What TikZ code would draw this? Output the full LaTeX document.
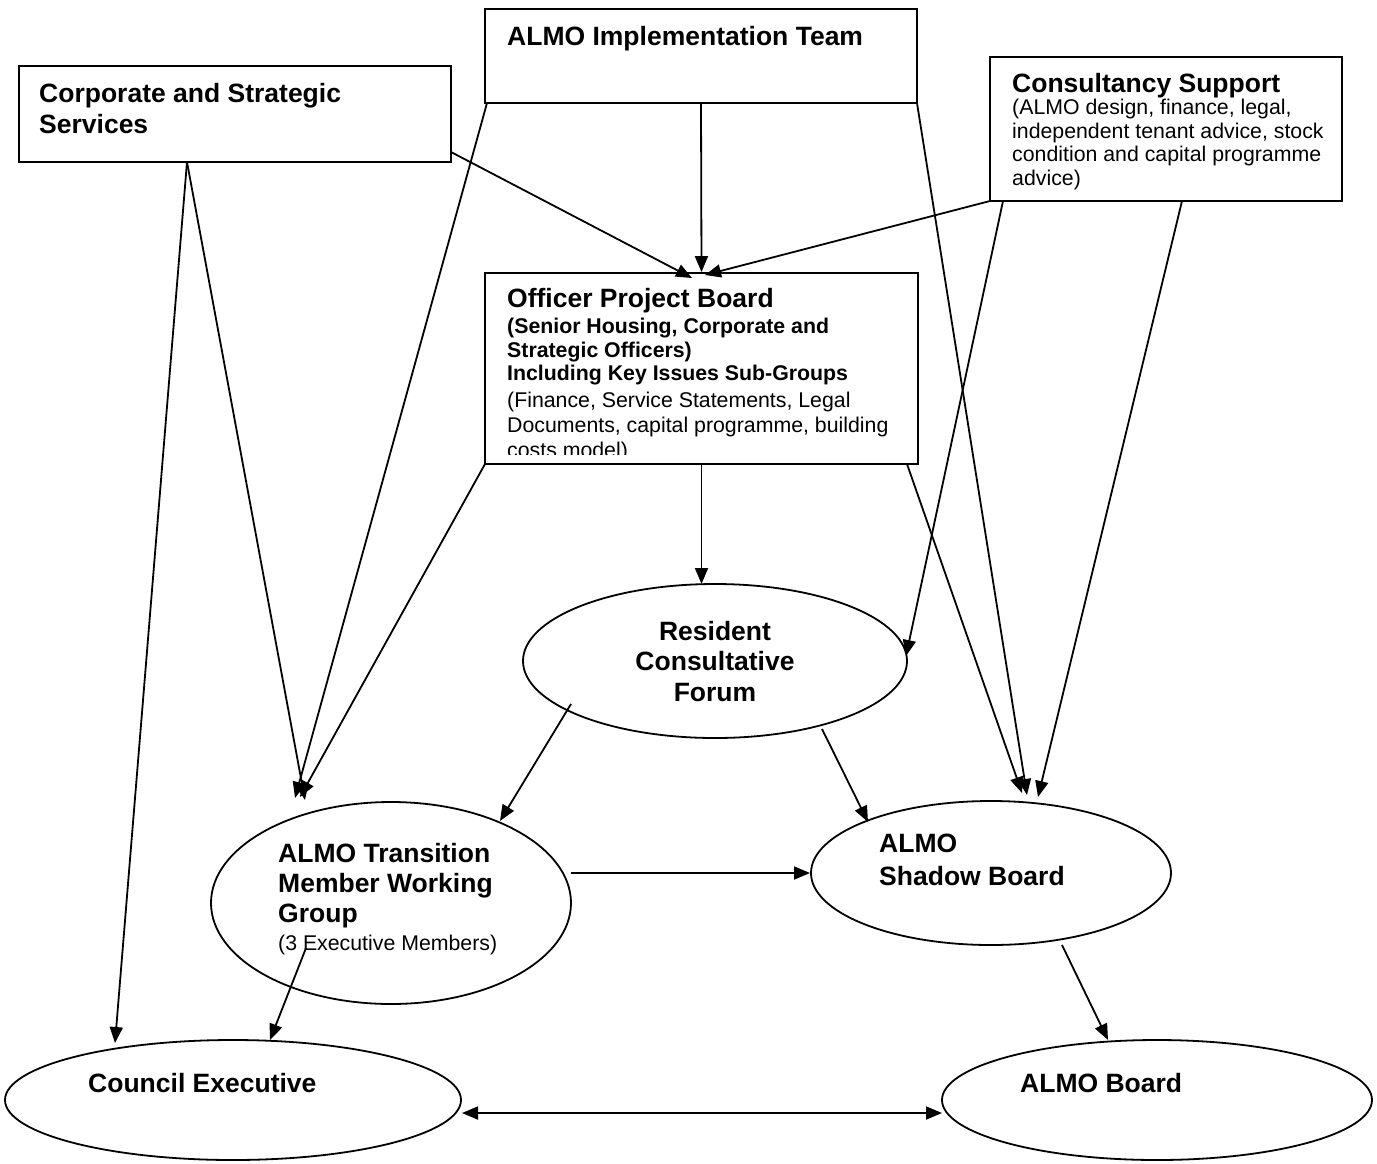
\documentclass[tikz,border=0pt]{standalone}
\usepackage{fontspec}
\setmainfont{Liberation Sans}
\usetikzlibrary{arrows.meta,shapes.geometric}
\tikzset{
  box/.style={draw, line width=1.8pt, rectangle, inner sep=0pt},
  oval/.style={draw, line width=1.8pt, ellipse, inner sep=0pt},
  arr/.style={line width=1.8pt, -{Triangle[length=16pt,width=13pt]}},
  dblarr/.style={line width=1.8pt, {Triangle[length=16pt,width=13pt]}-{Triangle[length=16pt,width=13pt]}},
  hd/.style={anchor=base west, inner sep=0pt, font=\bfseries\fontsize{26.5}{30}\selectfont},
  hdc/.style={anchor=base, inner sep=0pt, font=\bfseries\fontsize{26.5}{30}\selectfont},
  sbb/.style={anchor=base west, inner sep=0pt, font=\bfseries\fontsize{21.3}{24}\selectfont},
  sbr/.style={anchor=base west, inner sep=0pt, font=\fontsize{21.3}{24}\selectfont},
}
\begin{document}
\begin{tikzpicture}[x=1pt,y=-1pt]
\useasboundingbox[fill=white] (0,0) rectangle (1377,1163);

% boxes
\node[box, minimum width=432pt, minimum height=94pt] (impl) at (701,56) {};
\node[box, minimum width=432pt, minimum height=96pt] (corp) at (235,114) {};
\node[box, minimum width=352pt, minimum height=144pt] (cons) at (1166,129) {};
\node[box, minimum width=433pt, minimum height=191pt] (opb) at (701.5,368.5) {};

% ellipses
\node[oval, minimum width=384pt, minimum height=154pt] (rcf) at (715,661) {};
\node[oval, minimum width=360pt, minimum height=202pt] (trans) at (391,903) {};
\node[oval, minimum width=360pt, minimum height=144pt] (shadow) at (991,873) {};
\node[oval, minimum width=456pt, minimum height=120pt] (council) at (233,1100) {};
\node[oval, minimum width=430pt, minimum height=120pt] (almob) at (1157,1100) {};

% texts
\node[hd] (implT) at (507,45) {ALMO Implementation Team};
\node[hd] (corpT1) at (39,102) {Corporate and Strategic};
\node[hd] (corpT2) at (39,133) {Services};

\begin{scope}
\clip (990,57) rectangle (1342,190);
\node[hd] (consT) at (1012,92) {Consultancy Support};
\node[sbr] (consS1) at (1012,114) {(ALMO design, finance, legal,};
\node[sbr] (consS2) at (1012,138) {independent tenant advice, stock};
\node[sbr] (consS3) at (1012,161) {condition and capital programme};
\node[sbr] (consS4) at (1012,185) {advice)};
\end{scope}

\begin{scope}
\clip (485,273) rectangle (918,454);
\node[hd] (opbT) at (507,307) {Officer Project Board};
\node[sbb] (opbB1) at (507,333) {(Senior Housing, Corporate and};
\node[sbb] (opbB2) at (507,357) {Strategic Officers)};
\node[sbb] (opbB3) at (507,380) {Including Key Issues Sub-Groups};
\node[sbr] (opbS1) at (507,407) {(Finance, Service Statements, Legal};
\node[sbr] (opbS2) at (507,432) {Documents, capital programme, building};
\node[sbr] (opbS3) at (507,457) {costs model)};
\end{scope}

\node[hdc] (rcfT1) at (715,640) {Resident};
\node[hdc] (rcfT2) at (715,670) {Consultative};
\node[hdc] (rcfT3) at (715,701) {Forum};

\node[hd] (transT1) at (278,862) {ALMO Transition};
\node[hd] (transT2) at (278,892) {Member Working};
\node[hd] (transT3) at (278,922) {Group};
\node[sbr] (transS) at (278,950) {(3 Executive Members)};

\node[hd] (shadowT1) at (879,852) {ALMO};
\node[hd] (shadowT2) at (879,885) {Shadow Board};

\node[hd] (councilT) at (88,1092) {Council Executive};
\node[hd] (almobT) at (1020,1092) {ALMO Board};

% connectors
\draw[arr] ([shift={(-48,48)}]corp.center) -- ([shift={(-118,-57)}]council.center);
\draw[arr] ([shift={(-48,48)}]corp.center) -- ([shift={(-86,-103)}]trans.center);
\draw[arr] ([shift={(216,38)}]corp.center) -- ([shift={(-9.5,-90.5)}]opb.center);
\draw[arr] (impl.south) -- (opb.north);
\draw[arr] ([shift={(-214,47)}]impl.center) -- ([shift={(-96,-105)}]trans.center);
\draw[arr] ([shift={(216,47)}]impl.center) -- ([shift={(36,-78)}]shadow.center);
\draw[arr] ([shift={(-176,72)}]cons.center) -- ([shift={(3.5,-93.5)}]opb.center);
\draw[arr] ([shift={(-163,72)}]cons.center) -- ([shift={(191,-5)}]rcf.center);
\draw[arr] ([shift={(16,72)}]cons.center) -- ([shift={(47,-76)}]shadow.center);
\draw[arr] ([shift={(-216.5,95.5)}]opb.center) -- ([shift={(-91,-106)}]trans.center);
\draw[arr] (opb.south) -- ([shift={(-13.5,-77)}]rcf.center);
\draw[arr] ([shift={(205.5,95.5)}]opb.center) -- ([shift={(31,-80)}]shadow.center);
\draw[arr] ([shift={(-144,43)}]rcf.center) -- ([shift={(109,-82)}]trans.center);
\draw[arr] ([shift={(107,68)}]rcf.center) -- ([shift={(-123,-51)}]shadow.center);
\draw[arr] ([shift={(180,-30)}]trans.center) -- ([shift={(-181,0)}]shadow.center);
\draw[arr] ([shift={(-85,45)}]trans.center) -- ([shift={(37,-60)}]council.center);
\draw[arr] ([shift={(71,72)}]shadow.center) -- ([shift={(-49,-60)}]almob.center);
\draw[dblarr] ([shift={(229,13)}]council.center) -- ([shift={(-215,13)}]almob.center);
\end{tikzpicture}
\end{document}
